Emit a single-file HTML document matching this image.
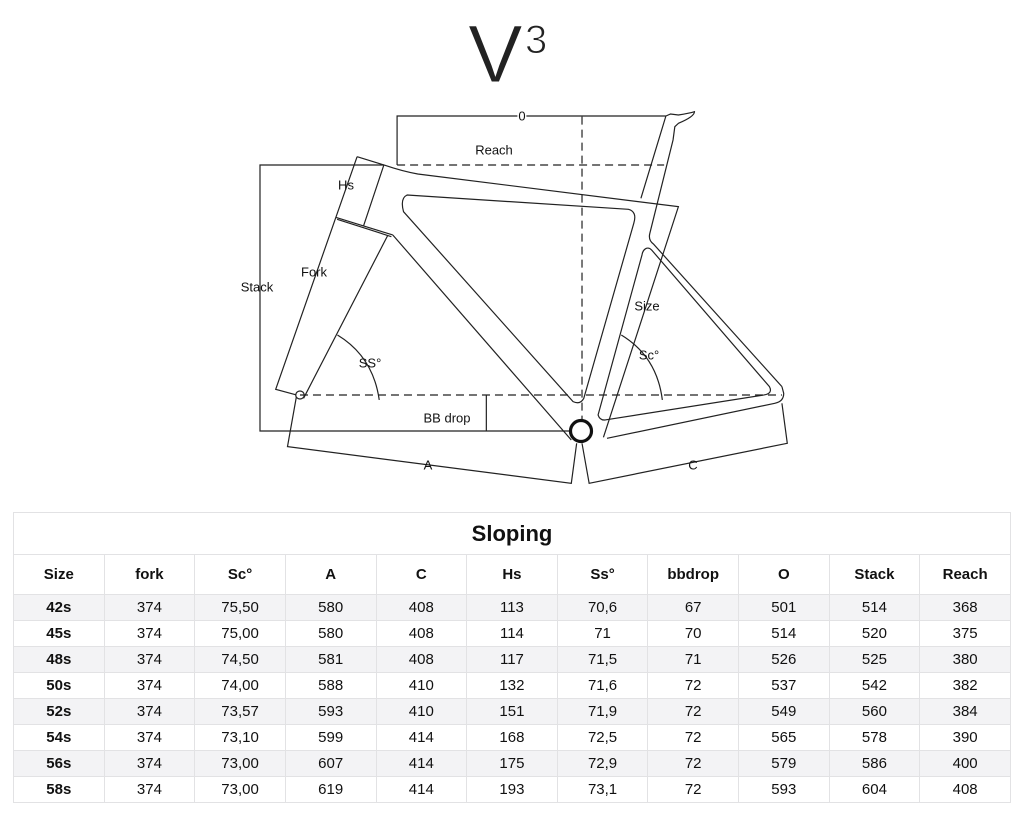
<!DOCTYPE html>
<html><head><meta charset="utf-8"><style>
body{margin:0;width:1024px;height:819px;background:#fff;position:relative;overflow:hidden;font-family:"Liberation Sans",sans-serif;color:#1a1a1a}
.lbl{position:absolute;font-size:13px;transform:translate(-50%,-50%);white-space:nowrap;background:transparent;color:#111}
table{position:absolute;left:13px;top:512px;width:998px;border-collapse:collapse;table-layout:fixed}
td,th{border:1.5px solid #e2e2e4;text-align:center;font-size:15px;padding:0;height:25px;color:#111}
th{font-weight:bold;height:39px}
tr.t th{font-size:22px;height:41px}
tr.g td{background:#f3f3f5}
td:first-child{font-weight:bold}
</style></head><body>
<div style="position:absolute;left:468px;top:14px;font-size:82px;line-height:82px;-webkit-text-stroke:1px #fff;color:#222">V</div>
<div style="position:absolute;left:525px;top:20px;font-size:40px;line-height:40px;-webkit-text-stroke:1px #fff;color:#222">3</div>
<svg width="1024" height="500" style="position:absolute;left:0;top:0">
<g transform="translate(250,100) scale(0.357,0.3333)" fill="none" stroke="#222" stroke-width="1.2">
<path vector-effect="non-scaling-stroke" d="M412,195 V48 H1165"/>
<path vector-effect="non-scaling-stroke" stroke-dasharray="8,5" d="M412,195 H1160 M930,50 V990 M140,885 H1490"/>
<path vector-effect="non-scaling-stroke" d="M375,195 H28 V993 H900 M662,885 V993"/>
<path vector-effect="non-scaling-stroke" d="M300,170 L375,195 M300,170 L72,868 L130,885 M375,195 L318,378 M240,352 L318,378 L400,405 M244,358 L320,384 L396,410 M385,408 L150,895"/>
<circle vector-effect="non-scaling-stroke" cx="140" cy="885" r="12"/>
<path vector-effect="non-scaling-stroke" d="M400,405 L900,1020 M375,195 Q430,215 470,222 L1200,320 L990,1012 M1000,1015 L1470,910 Q1495,905 1495,880 L1490,860"/>
<path vector-effect="non-scaling-stroke" d="M1165,48 L1178,42 L1200,45 Q1230,40 1245,35 Q1245,50 1200,70 L1190,80 L1185,120 L1120,400 Q1115,420 1130,432 L1490,860 M1165,48 L1095,295"/>
<path vector-effect="non-scaling-stroke" d="M440,285 L1060,328 Q1085,335 1075,370 L935,895 Q925,915 905,905 L430,335 Q420,295 440,285 Z"/>
<path vector-effect="non-scaling-stroke" d="M1110,445 Q1100,450 1098,465 L975,945 Q980,962 995,960 L1440,885 Q1465,880 1455,860 L1125,450 Q1118,442 1110,445 Z"/>
<path vector-effect="non-scaling-stroke" d="M245,705 Q345,770 362,900 M1040,705 Q1140,770 1155,900"/>
<path vector-effect="non-scaling-stroke" d="M130,890 L105,1040 L900,1150 L915,1030 M1490,910 L1505,1030 L950,1150 L930,1030"/>
</g>
<circle cx="581" cy="431" r="10.5" fill="#fff" stroke="#111" stroke-width="3.2"/>
</svg>
<div class="lbl" style="left:522px;top:116px;background:#fff;padding:0 1px">0</div>
<div class="lbl" style="left:494px;top:150px">Reach</div>
<div class="lbl" style="left:346px;top:185px">Hs</div>
<div class="lbl" style="left:257px;top:287px">Stack</div>
<div class="lbl" style="left:314px;top:272px">Fork</div>
<div class="lbl" style="left:370px;top:363px">SS°</div>
<div class="lbl" style="left:647px;top:306px">Size</div>
<div class="lbl" style="left:649px;top:355px">Sc°</div>
<div class="lbl" style="left:447px;top:418px">BB drop</div>
<div class="lbl" style="left:428px;top:465px">A</div>
<div class="lbl" style="left:693px;top:465px">C</div>
<table>
<tr class="t"><th colspan="11">Sloping</th></tr>
<tr><th>Size</th><th>fork</th><th>Sc°</th><th>A</th><th>C</th><th>Hs</th><th>Ss°</th><th>bbdrop</th><th>O</th><th>Stack</th><th>Reach</th></tr>
<tr class="g"><td>42s</td><td>374</td><td>75,50</td><td>580</td><td>408</td><td>113</td><td>70,6</td><td>67</td><td>501</td><td>514</td><td>368</td></tr>
<tr><td>45s</td><td>374</td><td>75,00</td><td>580</td><td>408</td><td>114</td><td>71</td><td>70</td><td>514</td><td>520</td><td>375</td></tr>
<tr class="g"><td>48s</td><td>374</td><td>74,50</td><td>581</td><td>408</td><td>117</td><td>71,5</td><td>71</td><td>526</td><td>525</td><td>380</td></tr>
<tr><td>50s</td><td>374</td><td>74,00</td><td>588</td><td>410</td><td>132</td><td>71,6</td><td>72</td><td>537</td><td>542</td><td>382</td></tr>
<tr class="g"><td>52s</td><td>374</td><td>73,57</td><td>593</td><td>410</td><td>151</td><td>71,9</td><td>72</td><td>549</td><td>560</td><td>384</td></tr>
<tr><td>54s</td><td>374</td><td>73,10</td><td>599</td><td>414</td><td>168</td><td>72,5</td><td>72</td><td>565</td><td>578</td><td>390</td></tr>
<tr class="g"><td>56s</td><td>374</td><td>73,00</td><td>607</td><td>414</td><td>175</td><td>72,9</td><td>72</td><td>579</td><td>586</td><td>400</td></tr>
<tr><td>58s</td><td>374</td><td>73,00</td><td>619</td><td>414</td><td>193</td><td>73,1</td><td>72</td><td>593</td><td>604</td><td>408</td></tr>
</table>
</body></html>
